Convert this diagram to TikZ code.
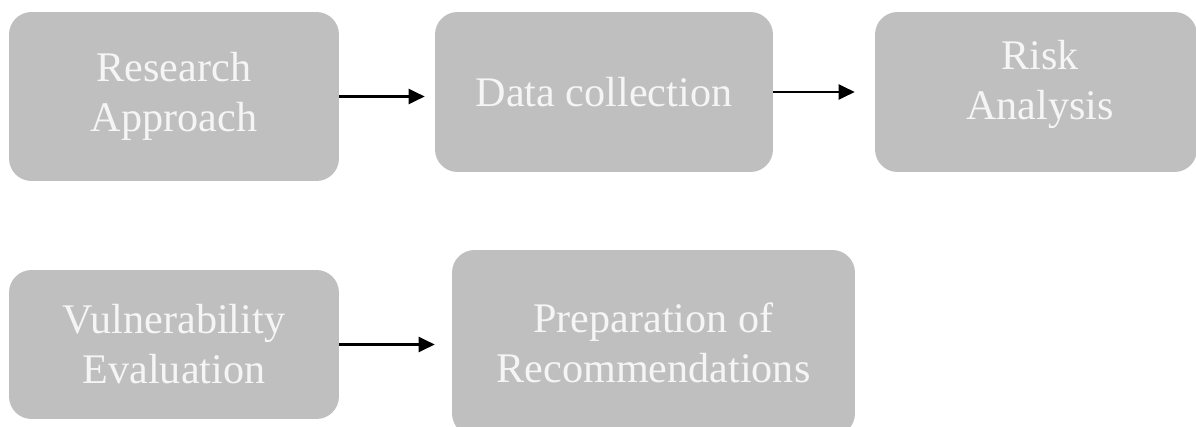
\documentclass[tikz,border=0pt]{standalone}
\usepackage{fontspec}
\setmainfont{Liberation Serif}
\usepackage{tikz}
\usetikzlibrary{arrows.meta,positioning,calc}
\definecolor{boxgray}{rgb}{0.75,0.75,0.75}
\definecolor{boxtext}{rgb}{0.96,0.96,0.96}
\tikzstyle{stage}=[draw=none,fill=boxgray,rounded corners=0.45cm,inner sep=0pt,
                text=boxtext,align=center,font=\fontsize{24}{28.5}\selectfont]
\tikzstyle{stagetext}=[inner sep=0pt,text=boxtext,align=center,
                font=\fontsize{24}{28.5}\selectfont]
\tikzstyle{flow}=[draw,line width=1.3pt,-{Triangle[length=0.32cm,width=0.3cm]}]

\begin{document}
\begin{tikzpicture}[x=0.02cm,y=-0.02cm]

% % % % % % % % % % % % % % %

\useasboundingbox (0,0) rectangle (1196,426);

% first row
\node[stage,minimum width=6.6cm,minimum height=3.38cm] (research) at (174,96.5) {Research\\Approach};
\node[stage,minimum width=6.76cm,minimum height=3.2cm] (data) at (604,92) {Data collection};
\node[stage,minimum width=6.44cm,minimum height=3.2cm] (risk) at (1036,92) {};
\node[stagetext] (risktext) at ($(risk.center)+(4,-8)$) {Risk\\Analysis};

% second row
\node[stage,minimum width=6.6cm,minimum height=2.98cm] (vuln) at (174,344.5) {Vulnerability\\Evaluation};
\node[stage,minimum width=8.06cm,minimum height=3.72cm] (prep) at (653.5,343) {Preparation of\\Recommendations};

\draw[flow,shorten >=0.2cm] (research.east) -- (research.east -| data.west);
\draw[flow,shorten >=0.4cm] (data.east) -- (data.east -| risk.west);
\draw[flow,shorten >=0.34cm] (vuln.east) -- (vuln.east -| prep.west);

\end{tikzpicture}
\end{document}
